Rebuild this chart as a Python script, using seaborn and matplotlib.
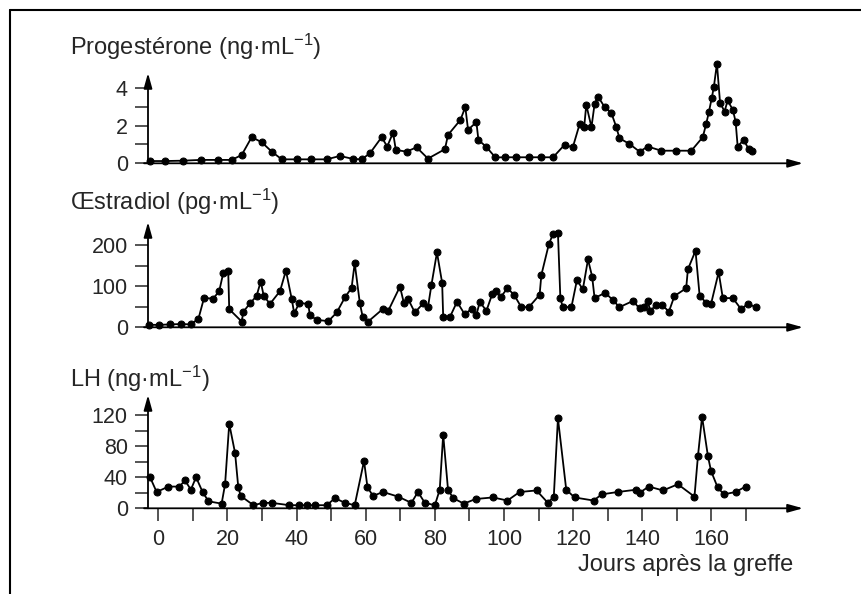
import matplotlib
matplotlib.use('Agg')
import matplotlib.pyplot as plt
import seaborn as sns
import pandas as pd

# Progestérone (ng/mL)
prog_days = [-2.4, 1.9, 7.2, 12.2, 17.2, 21.2, 24.1, 27.0, 29.9, 32.8, 35.7, 40.0, 44.3, 48.7,
             52.5, 56.4, 58.8, 61.2, 64.6, 66.2, 67.9, 68.7, 71.8, 74.7, 78.0, 82.9, 83.8, 87.4,
             88.8, 89.6, 92.0, 92.6, 94.9, 97.5, 100.2, 103.6, 107.2, 110.8, 114.2, 117.5, 119.9,
             121.9, 123.2, 123.8, 125.3, 126.2, 127.2, 129.1, 131.0, 132.5, 133.4, 136.3, 139.2,
             141.6, 145.5, 149.8, 154.2, 157.5, 158.5, 159.3, 160.1, 160.7, 161.6, 162.5, 163.8,
             164.7, 166.2, 167.0, 167.6, 169.3, 170.8, 171.8]
prog_vals = [0.12, 0.12, 0.14, 0.18, 0.18, 0.18, 0.44, 1.39, 1.12, 0.62, 0.21, 0.21, 0.21, 0.21,
             0.39, 0.23, 0.21, 0.53, 1.39, 0.89, 1.63, 0.71, 0.62, 0.85, 0.25, 0.75, 1.51, 2.31,
             2.99, 1.78, 2.19, 1.24, 0.87, 0.31, 0.32, 0.32, 0.32, 0.32, 0.32, 0.98, 0.85,
             2.10, 1.95, 3.11, 1.92, 3.15, 3.55, 2.99, 2.70, 1.92, 1.33, 1.03, 0.62,
             0.89, 0.67, 0.67, 0.67, 1.39, 2.10, 2.75, 3.47, 4.05, 5.30, 3.23, 2.75,
             3.34, 2.84, 2.22, 0.89, 1.24, 0.76, 0.67]

# Oestradiol (pg/mL)
oes_days = [-2.6, 0.3, 3.4, 6.6, 9.4, 11.6, 13.2, 15.9, 17.6, 18.8, 20.2, 20.5, 24.1, 24.6, 26.5,
            28.4, 29.6, 30.5, 32.3, 35.2, 36.9, 38.6, 39.3, 40.8, 43.4, 43.8, 45.8, 49.2, 51.6,
            54.0, 55.9, 56.8, 58.3, 59.1, 60.7, 65.0, 66.5, 69.9, 71.0, 72.3, 74.2, 76.6, 78.0,
            79.0, 80.6, 82.1, 82.4, 84.3, 86.4, 88.6, 90.6, 92.0, 93.0, 94.9, 96.6, 97.6, 99.0,
            101.0, 102.9, 105.0, 107.2, 110.3, 110.8, 113.0, 114.2, 115.6, 116.3, 117.0, 119.5,
            121.1, 122.8, 124.3, 125.5, 126.2, 129.3, 131.5, 133.4, 137.3, 139.2, 140.4, 141.6,
            142.3, 144.0, 145.8, 147.7, 149.3, 152.7, 153.2, 155.4, 156.6, 158.5, 159.9, 162.1,
            163.3, 166.2, 168.6, 170.5, 172.9]
oes_vals = [6, 6, 7, 8, 7, 21, 71, 70, 88, 133, 138, 44, 14, 38, 58,
            76, 111, 76, 57, 88, 138, 68, 34, 60, 56, 30, 18, 15, 36,
            73, 96, 156, 58, 26, 14, 45, 40, 99, 60, 68, 36, 58, 49,
            103, 182, 108, 26, 24, 62, 32, 44, 30, 62, 40, 81, 89, 73,
            95, 79, 49, 49, 79, 127, 203, 227, 230, 71, 49, 49,
            115, 92, 165, 123, 71, 84, 66, 49, 64, 46, 49, 64,
            40, 54, 54, 38, 76, 95, 141, 186, 76, 60, 57, 134,
            71, 71, 44, 57, 49]

# LH (ng/mL)
lh_days = [-2.4, -0.5, 2.9, 6.1, 7.7, 9.4, 10.9, 12.8, 14.5, 18.3, 19.3, 20.5, 22.2, 23.1, 23.8,
           27.5, 30.3, 32.8, 37.9, 40.8, 42.9, 45.3, 48.7, 51.1, 54.0, 56.8, 59.5, 60.5, 62.1,
           65.0, 69.4, 73.2, 75.1, 77.1, 80.0, 81.4, 82.4, 83.8, 85.3, 88.4, 91.8, 96.8, 101.0,
           104.5, 109.4, 112.7, 114.4, 115.6, 118.0, 120.4, 125.9, 128.3, 132.9, 138.3, 139.2,
           141.9, 146.0, 150.3, 155.1, 156.1, 157.3, 159.0, 159.9, 161.8, 163.6, 167.0, 169.9]
lh_vals = [40, 21, 28, 28, 36, 24, 40, 21, 9, 6, 31, 109, 71, 28, 16,
           4, 7, 7, 4, 4, 4, 4, 4, 13, 7, 4, 61, 27, 16,
           21, 15, 7, 21, 7, 4, 24, 95, 24, 13, 6, 12, 14, 10,
           21, 23, 7, 15, 116, 24, 14, 10, 18, 21, 24, 20,
           28, 23, 31, 15, 67, 118, 67, 48, 27, 18, 21, 28]

titles = ['Progestérone (ng·mL$^{-1}$)', 'Œstradiol (pg·mL$^{-1}$)', 'LH (ng·mL$^{-1}$)']
xlabel = 'Jours après la greffe'

sns.set_style('white')
plt.rcParams['font.family'] = ['Liberation Sans', 'DejaVu Sans']
plt.rcParams['mathtext.fontset'] = 'custom'
plt.rcParams['mathtext.rm'] = 'Liberation Sans'
plt.rcParams['mathtext.default'] = 'regular'

W, H = 861, 594
fig = plt.figure(figsize=(W / 100, H / 100), dpi=100)
fig.patch.set_facecolor('white')

# pixel layout: x span, then per panel arrow top, zero line, y limit, ticks
x0, x1 = 148, 803
panels = [
    (prog_days, prog_vals, 73, 163.3, 4.8, [0, 2, 4], [1, 3]),
    (oes_days, oes_vals, 222, 327.3, 256, [0, 100, 200], [50, 150]),
    (lh_days, lh_vals, 395, 508.3, 146, [0, 40, 80, 120], [20, 60, 100]),
]
title_y = [47, 202, 379]

for i, (dx, dy, ytop, yzero, ymax, major, minor) in enumerate(panels):
    ax = fig.add_axes([x0 / W, 1 - yzero / H, (x1 - x0) / W, (yzero - ytop) / H])
    df = pd.DataFrame({'jour': dx, 'val': dy})
    sns.lineplot(data=df, x='jour', y='val', ax=ax, color='black', lw=1.3,
                 marker='o', markersize=5, markeredgecolor='black',
                 sort=False, estimator=None)
    for ln in ax.lines:
        ln.set_clip_on(False)
    ax.set_xlim(-3, 186.5)
    ax.set_ylim(0, ymax)
    ax.set_facecolor('none')
    for s in ax.spines.values():
        s.set_visible(False)
    ax.set_xlabel('')
    ax.set_ylabel('')
    ax.set_yticks(major)
    ax.set_yticks(minor, minor=True)
    ax.tick_params(axis='y', which='both', direction='out', length=9.5, width=1.1,
                   left=True, pad=5, labelsize=15.5)
    arrow = dict(arrowstyle='-|>,head_length=0.9,head_width=0.25',
                 color='black', lw=1.3, shrinkA=0, shrinkB=0)
    ax.annotate('', xy=(1, 0), xytext=(-0.006, 0), xycoords='axes fraction',
                arrowprops=arrow, annotation_clip=False)
    ax.annotate('', xy=(0, 1), xytext=(0, 0), xycoords='axes fraction',
                arrowprops=arrow, annotation_clip=False)
    if i < 2:
        ax.set_xticks([])
    else:
        ax.set_xticks(range(0, 161, 20))
        ax.set_xticks(range(10, 171, 20), minor=True)
        ax.tick_params(axis='x', which='both', direction='out', length=9, width=1.1,
                       bottom=True, pad=6, labelsize=15.5)
    fig.text(70 / W, 1 - title_y[i] / H, titles[i], fontsize=17, va='center', ha='left')

fig.text(793 / W, 1 - 565 / H, xlabel, fontsize=17, va='center', ha='right')

# scanned page frame (left and top edges)
fig.add_artist(plt.Line2D([10 / W, 10 / W], [0, 1 - 10 / H], color='black', lw=1.5))
fig.add_artist(plt.Line2D([10 / W, 1], [1 - 10 / H, 1 - 10 / H], color='black', lw=1.5))

fig.savefig('out.png', dpi=100)
